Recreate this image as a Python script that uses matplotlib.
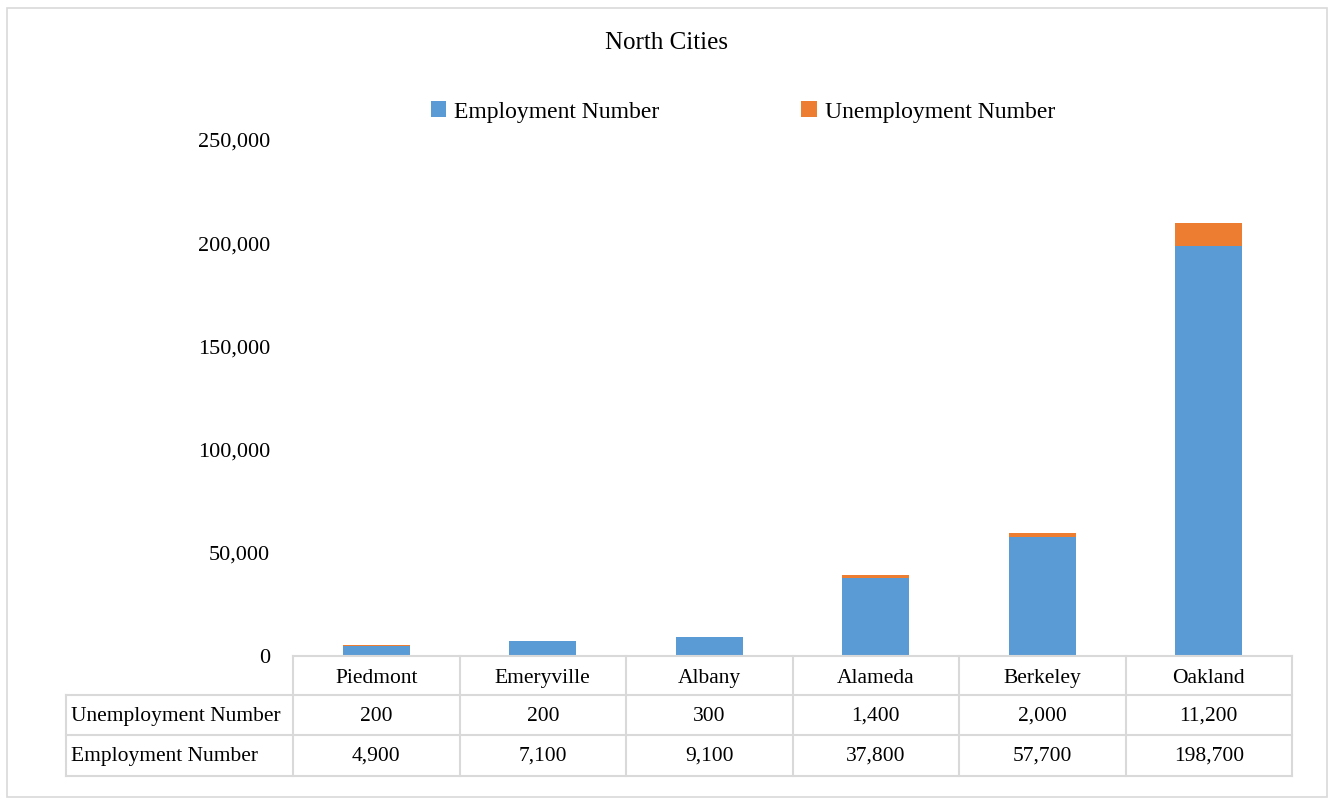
import matplotlib
matplotlib.use("Agg")
import matplotlib.pyplot as plt
from matplotlib.patches import Rectangle, Patch
from matplotlib.lines import Line2D
from matplotlib.transforms import blended_transform_factory
from matplotlib.ticker import FuncFormatter

plt.rcParams['font.family'] = ['Liberation Serif', 'DejaVu Serif']

cities = ["Piedmont", "Emeryville", "Albany", "Alameda", "Berkeley", "Oakland"]
employment = [4900, 7100, 9100, 37800, 57700, 198700]
unemployment = [200, 200, 300, 1400, 2000, 11200]
series_names = ["Employment Number", "Unemployment Number"]
title = "North Cities"
yticks = [0, 50000, 100000, 150000, 200000, 250000]

BLUE = "#5B9BD5"
ORANGE = "#ED7D31"
GRID = "#D9D9D9"

W, H = 1333, 800
fig = plt.figure(figsize=(W / 100, H / 100), dpi=100)

def fx(px):
    return px / W

def fy(py):
    return 1 - py / H

ax = fig.add_axes([fx(293), fy(656), fx(1292) - fx(293), fy(140) - fy(656)])
x = list(range(len(cities)))
ax.bar(x, employment, width=0.4, color=BLUE, label=series_names[0], zorder=2)
ax.bar(x, unemployment, width=0.4, bottom=employment, color=ORANGE,
       label=series_names[1], zorder=2)
ax.set_xlim(-0.5, len(cities) - 0.5)
ax.set_ylim(0, 250000)
ax.set_yticks(yticks)
ax.yaxis.set_major_formatter(FuncFormatter(lambda v, p: f"{int(v):,}"))
ax.tick_params(axis='y', length=0, pad=16.5, labelsize=16)
ax.set_xticks([])
for s in ax.spines.values():
    s.set_visible(False)

# outer chart border
fig.patches.append(Rectangle((fx(7), fy(797)), fx(1327) - fx(7), fy(8) - fy(797),
                             transform=fig.transFigure, fill=False,
                             edgecolor=GRID, linewidth=1.2, zorder=0))

# title
fig.text(0.5, fy(43), title, ha='center', va='center', fontsize=18)

# legend
handles = [Patch(facecolor=BLUE, edgecolor='none'), Patch(facecolor=ORANGE, edgecolor='none')]
fig.legend(handles, series_names, loc='center', bbox_to_anchor=(fx(743), fy(112)),
           ncol=2, frameon=False, fontsize=17, handlelength=0.65, handleheight=0.65,
           handletextpad=0.35, columnspacing=6.0)

# data table
tr = blended_transform_factory(ax.transData, fig.transFigure)
row_y = [656, 695, 735, 776]
lw = 1.5
fig.add_artist(Line2D([-0.5, len(cities) - 0.5], [fy(row_y[0])] * 2, transform=tr,
                      color=GRID, lw=lw))
for yy in row_y[1:]:
    fig.add_artist(Line2D([fx(66), fx(1292)], [fy(yy)] * 2, transform=fig.transFigure,
                          color=GRID, lw=lw))
for i in range(len(cities) + 1):
    fig.add_artist(Line2D([i - 0.5, i - 0.5], [fy(row_y[0]), fy(row_y[3])], transform=tr,
                          color=GRID, lw=lw))
fig.add_artist(Line2D([fx(66), fx(66)], [fy(row_y[1]), fy(row_y[3])],
                      transform=fig.transFigure, color=GRID, lw=lw))

header_y = fy(676)
rows = [(series_names[1], unemployment, fy(714)), (series_names[0], employment, fy(754))]
for i, c in enumerate(cities):
    fig.text(i, header_y, c, transform=tr, ha='center', va='center_baseline', fontsize=15.5)
for name, vals, yy in rows:
    fig.text(fx(71), yy, name, ha='left', va='center_baseline', fontsize=15.5)
    for i, v in enumerate(vals):
        fig.text(i, yy, f"{v:,}", transform=tr, ha='center', va='center_baseline',
                 fontsize=15.5)

fig.savefig("out.png", dpi=100)
